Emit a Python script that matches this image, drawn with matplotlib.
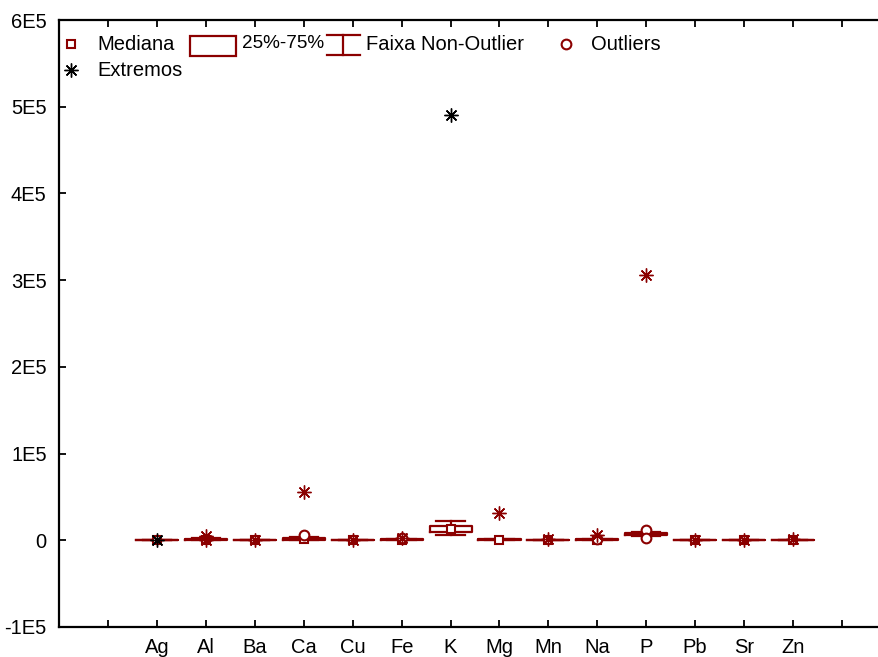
import matplotlib
matplotlib.use("Agg")
import matplotlib.pyplot as plt
from matplotlib.patches import Rectangle

plt.rcParams["font.family"] = ["Liberation Sans", "DejaVu Sans"]
plt.rcParams["font.size"] = 14.5

VERMELHO = "#8b0000"

elementos = ["Ag", "Al", "Ba", "Ca", "Cu", "Fe", "K", "Mg", "Mn", "Na", "P", "Pb", "Sr", "Zn"]

# limite inferior, Q1, mediana, Q3, limite superior
lim_inf = [0, 50, 10, 0, 5, 50, 6000, 100, 10, 100, 4500, 1, 5, 20]
q1 = [1, 300, 50, 500, 20, 300, 9500, 300, 50, 300, 6000, 5, 20, 60]
mediana = [2, 800, 100, 1500, 40, 600, 13500, 600, 100, 600, 7500, 10, 40, 120]
q3 = [4, 1500, 200, 3000, 80, 1000, 16500, 1000, 200, 1000, 8500, 20, 80, 200]
lim_sup = [8, 2500, 300, 4000, 150, 1600, 22000, 1500, 400, 1500, 9500, 40, 150, 350]

outliers = {
    "Ca": [6500],
    "Fe": [2200],
    "Na": [1800],
    "P": [11500, 3000],
}
extremos = {
    "Ag": [20],
    "Al": [5000, 800],
    "Ba": [900],
    "Ca": [56000],
    "Cu": [600],
    "Fe": [3200],
    "K": [490000],
    "Mg": [32000],
    "Mn": [1200],
    "Na": [6000],
    "P": [306000],
    "Pb": [200],
    "Sr": [500],
    "Zn": [1200],
}
extremos_pretos = ["Ag", "K"]

y_ticks = [-100000, 0, 100000, 200000, 300000, 400000, 500000, 600000]
y_labels = ["-1E5", "0", "1E5", "2E5", "3E5", "4E5", "5E5", "6E5"]

W, H = 879, 657
fig = plt.figure(figsize=(W / 100, H / 100), dpi=100)

x0 = 59.2
passo = 48.92
x_max = 17
ax = fig.add_axes([x0 / W, 1 - 627 / H, x_max * passo / W, 607 / H])

posicoes = list(range(2, 2 + len(elementos)))

stats = []
for i, nome in enumerate(elementos):
    stats.append({
        "whislo": lim_inf[i],
        "q1": q1[i],
        "med": mediana[i],
        "q3": q3[i],
        "whishi": lim_sup[i],
        "fliers": [],
        "label": nome,
    })

ax.bxp(
    stats,
    positions=posicoes,
    widths=0.86,
    capwidths=0.58,
    showfliers=False,
    boxprops=dict(color=VERMELHO, linewidth=1.6),
    whiskerprops=dict(color=VERMELHO, linewidth=1.6),
    capprops=dict(color=VERMELHO, linewidth=1.6),
    medianprops=dict(linestyle="none"),
)

# mediana como quadrado
ax.plot(posicoes, mediana, linestyle="none", marker="s", markersize=6,
        markerfacecolor="white", markeredgecolor=VERMELHO, markeredgewidth=1.5, zorder=4)

for i, nome in enumerate(elementos):
    if nome in outliers:
        vals = outliers[nome]
        ax.plot([posicoes[i]] * len(vals), vals, linestyle="none", marker="o",
                markersize=7, markerfacecolor="white", markeredgecolor=VERMELHO,
                markeredgewidth=1.5, zorder=5)
    if nome in extremos:
        vals = extremos[nome]
        cor = "black" if nome in extremos_pretos else VERMELHO
        ax.plot([posicoes[i]] * len(vals), vals, linestyle="none", marker=(8, 2, 0),
                markersize=10, markeredgecolor=cor, markeredgewidth=1.0, zorder=6)

ax.set_xlim(0, x_max)
ax.set_ylim(-100000, 600000)
ax.set_xticks(range(1, 17))
ax.set_xticklabels([""] + elementos + [""])
ax.set_yticks(y_ticks)
ax.set_yticklabels(y_labels)
ax.tick_params(axis="x", direction="in", length=5, width=1.3, top=True, pad=8)
ax.tick_params(axis="y", direction="in", length=5, width=1.3, right=True, pad=9)
for s in ax.spines.values():
    s.set_linewidth(1.6)


# legenda desenhada a mao (posicoes em pixels da figura)
def px(x, y):
    return x / W, 1 - y / H


tf = fig.transFigure
ax.plot(*px(71, 44), marker="s", markersize=6, markerfacecolor="white",
        markeredgecolor=VERMELHO, markeredgewidth=1.5, transform=tf, clip_on=False)
ax.text(*px(97, 44), "Mediana", transform=tf, va="center", ha="left")

xr, yr = px(190, 56)
ax.add_patch(Rectangle((xr, yr), 46 / W, 20 / H, transform=tf, fill=False,
                       edgecolor=VERMELHO, linewidth=1.6, clip_on=False))
ax.text(*px(242, 44), "25%-75%", transform=tf, va="center", ha="left", fontsize=13.6)

ax.plot([327 / W, 360 / W], [1 - 35 / H] * 2, color=VERMELHO, lw=1.6, transform=tf, clip_on=False)
ax.plot([327 / W, 360 / W], [1 - 55 / H] * 2, color=VERMELHO, lw=1.6, transform=tf, clip_on=False)
ax.plot([343.5 / W] * 2, [1 - 35 / H, 1 - 55 / H], color=VERMELHO, lw=1.6, transform=tf, clip_on=False)
ax.text(*px(366, 44), "Faixa Non-Outlier", transform=tf, va="center", ha="left")

ax.plot(*px(566, 44), marker="o", markersize=7, markerfacecolor="white",
        markeredgecolor=VERMELHO, markeredgewidth=1.5, transform=tf, clip_on=False)
ax.text(*px(591, 44), "Outliers", transform=tf, va="center", ha="left")

ax.plot(*px(71, 70), marker=(8, 2, 0), markersize=10, markeredgecolor="black",
        markeredgewidth=1.0, transform=tf, clip_on=False)
ax.text(*px(97, 70), "Extremos", transform=tf, va="center", ha="left")

fig.savefig("out.png", dpi=100)
